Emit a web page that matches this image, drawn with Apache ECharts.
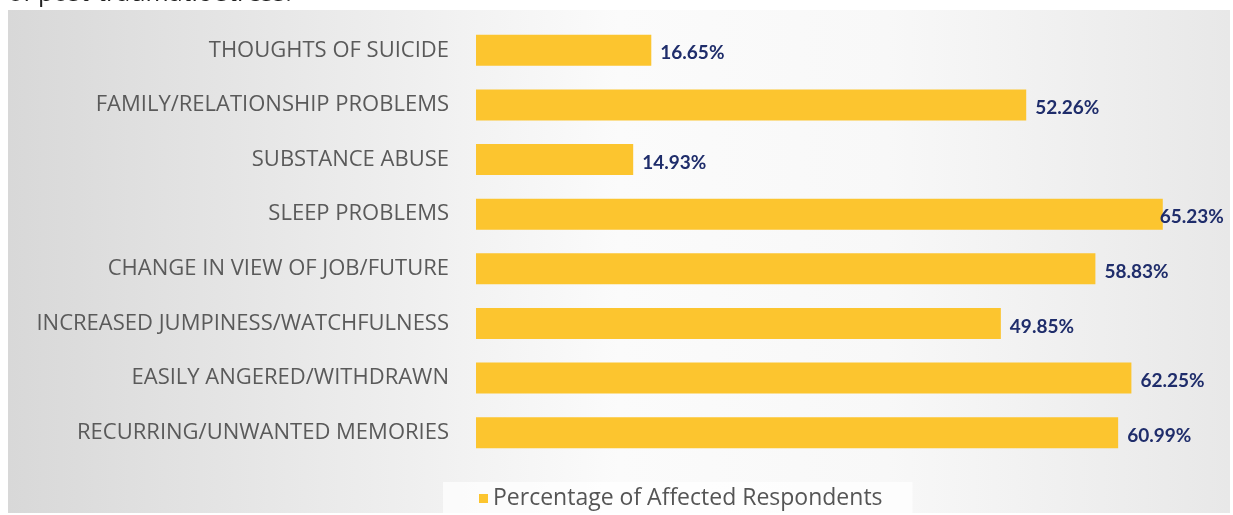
<!DOCTYPE html>
<html>
<head>
<meta charset="utf-8">
<script src="https://cdn.jsdelivr.net/npm/echarts@6/dist/echarts.min.js"></script>
<style>
html,body{margin:0;padding:0;background:#fff;}
#chart{width:1233px;height:515px;}
</style>
</head>
<body>
<div id="chart"></div>
<script>
const categories = [
  "THOUGHTS OF SUICIDE",
  "FAMILY/RELATIONSHIP PROBLEMS",
  "SUBSTANCE ABUSE",
  "SLEEP PROBLEMS",
  "CHANGE IN VIEW OF JOB/FUTURE",
  "INCREASED JUMPINESS/WATCHFULNESS",
  "EASILY ANGERED/WITHDRAWN",
  "RECURRING/UNWANTED MEMORIES"
];
const values = [16.65, 52.26, 14.93, 65.23, 58.83, 49.85, 62.25, 60.99];
const seriesName = "Percentage of Affected Respondents";
const topText = "of post-traumatic stress.";

const maxIdx = values.indexOf(Math.max(...values));
const barData = values.map((v, i) => i === maxIdx ? {value: v, label: {distance: -3}} : v);

const chart = echarts.init(document.getElementById('chart'));
chart.setOption({
  animation: false,
  backgroundColor: '#ffffff',
  graphic: [
    {
      type: 'rect', z: -10, silent: true,
      shape: {x: 8, y: 10, width: 1222, height: 503},
      style: {
        fill: new echarts.graphic.LinearGradient(0, 0, 1, 0, [
          {offset: 0, color: '#d8d8d8'},
          {offset: 0.5, color: '#fbfbfb'},
          {offset: 0.72, color: '#f8f8f8'},
          {offset: 1, color: '#e8e8e8'}
        ])
      }
    },
    {
      type: 'text', z: -5, silent: true,
      style: {
        x: 8, y: 6, text: topText, fill: '#222',
        font: '25px "Open Sans"', verticalAlign: 'bottom'
      }
    }
  ],
  grid: {left: 476, top: 23, right: 20, bottom: 55, containLabel: false},
  xAxis: {
    type: 'value', min: 0, max: 70, show: false
  },
  yAxis: {
    type: 'category', data: categories, inverse: true,
    axisLine: {show: false}, axisTick: {show: false},
    axisLabel: {color: '#5a5a5a', fontFamily: 'Open Sans', fontSize: 22, margin: 27}
  },
  legend: {
    bottom: 0, left: 443,
    data: [seriesName],
    icon: 'rect', itemWidth: 9, itemHeight: 9, itemGap: 5,
    backgroundColor: 'rgba(255,255,255,0.7)',
    padding: [5, 30, 5, 36],
    textStyle: {color: '#555', fontFamily: 'Open Sans', fontSize: 23}
  },
  series: [{
    name: seriesName, type: 'bar', data: barData, barWidth: 31,
    itemStyle: {color: '#fcc52f'},
    label: {
      show: true, position: 'right', distance: 9, offset: [0, 3],
      formatter: p => p.value.toFixed(2) + '%',
      color: '#1f2d6b', fontFamily: 'Lato', fontWeight: 'bold', fontSize: 19
    }
  }]
});
</script>
</body>
</html>
